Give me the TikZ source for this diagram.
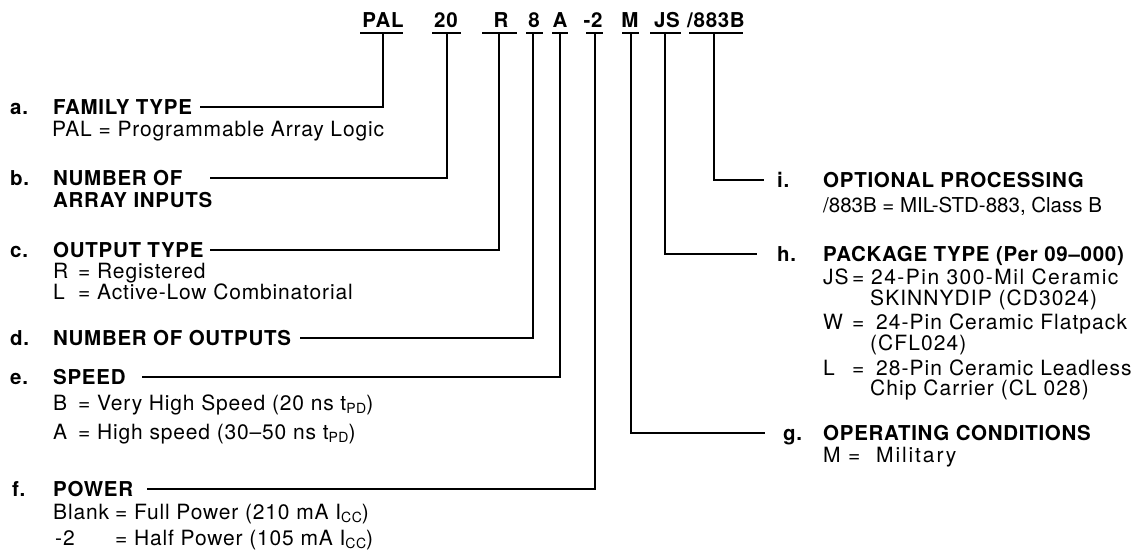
\documentclass[tikz,border=0pt]{standalone}
\usepackage{fontspec}
\setmainfont{texgyreheros}[Extension=.otf,UprightFont=*-regular,BoldFont=*-bold,ItalicFont=*-italic,BoldItalicFont=*-bolditalic,LetterSpace=4]
\newfontfamily\hdfont{texgyreheros}[Extension=.otf,UprightFont=*-bold,BoldFont=*-bold,LetterSpace=3.5]
\newfontfamily\rbody{texgyreheros}[Extension=.otf,UprightFont=*-regular,BoldFont=*-bold,LetterSpace=5]
\newfontfamily\tightbody{texgyreheros}[Extension=.otf,UprightFont=*-regular,BoldFont=*-bold,LetterSpace=0]
\newfontfamily\widebody{texgyreheros}[Extension=.otf,UprightFont=*-regular,BoldFont=*-bold,LetterSpace=7]
\newfontfamily\widerbody{texgyreheros}[Extension=.otf,UprightFont=*-regular,BoldFont=*-bold,LetterSpace=9]
\newcommand\subs[1]{\raisebox{-3pt}{\fontsize{14}{14}\selectfont #1}}
\begin{document}
\begin{tikzpicture}[x=1pt,y=-1pt,
  txt/.style={anchor=base west,inner sep=0pt,font=\fontsize{21}{25}\selectfont},
  rtxt/.style={anchor=base west,inner sep=0pt,font=\rbody\fontsize{21}{25}\selectfont},
  hd/.style={anchor=base west,inner sep=0pt,font=\hdfont\fontsize{20.5}{24}\selectfont},
  code/.style={anchor=base,inner sep=0pt,font=\hdfont\fontsize{20.5}{24}\selectfont},
  ln/.style={line width=1.8pt}]
\useasboundingbox (0,0) rectangle (1143,552);

% codes at top
\node[code] (cPAL) at (383,27) {PAL};
\node[code] (c20) at (446,27) {20};
\node[code] (cR) at (501,27) {R};
\node[code] (c8) at (534,27) {8};
\node[code] (cA) at (560,27) {A};
\node[code] (c2) at (593,27) {-2};
\node[code] (cM) at (630,27) {M};
\node[code] (cJS) at (667,27) {JS};
\node[code] (cB) at (716,27) {/883B};
% underlines
\draw[ln] (360,33) -- (403,33);
\draw[ln] (432,33) -- (461,33);
\draw[ln] (482,33) -- (517,33);
\draw[ln] (526,33) -- (543,33);
\draw[ln] (552,33) -- (568,33);
\draw[ln] (586,33) -- (603,33);
\draw[ln] (622,33) -- (639,33);
\draw[ln] (650,33) -- (681,33);
\draw[ln] (689,33) -- (743,33);
% stem tops
\coordinate (uPAL) at (383,33);
\coordinate (u20) at (447,33);
\coordinate (uR) at (499,33);
\coordinate (u8) at (533,33);
\coordinate (uA) at (560,33);
\coordinate (u2) at (595,33);
\coordinate (uM) at (631,33);
\coordinate (uJS) at (665,33);
\coordinate (uB) at (714,33);

% left column
\node[hd] (la) at (10,114) {a.};
\node[hd] (ha) at (53,114) {FAMILY TYPE};
\node[txt] (ba) at (52,136) {PAL = Programmable Array Logic};

\node[hd] (lb) at (10,185) {b.};
\node[hd] (hb) at (53,185) {NUMBER OF};
\node[hd] (hb2) at (53,207) {ARRAY INPUTS};

\node[hd] (lc) at (10,257) {c.};
\node[hd] (hc) at (53,257) {OUTPUT TYPE};
\node[txt] (bc1) at (53,278) {\makebox[25pt][l]{R}\makebox[19pt][l]{=}Registered};
\node[txt] (bc2) at (53,299) {\makebox[25pt][l]{L}\makebox[19pt][l]{=}Active-Low Combinatorial};

\node[hd] (ld) at (10,345) {d.};
\node[hd] (hd) at (53,345) {NUMBER OF OUTPUTS};

\node[hd] (le) at (10,384) {e.};
\node[hd] (he) at (53,384) {SPEED};
\node[txt] (be1) at (53,410) {\makebox[25pt][l]{B}\makebox[19pt][l]{=}Very High Speed (20 ns t\subs{PD})};
\node[txt] (be2) at (53,439) {\makebox[25pt][l]{A}\makebox[19pt][l]{=}High speed (30--50 ns t\subs{PD})};

\node[hd] (lf) at (12,496) {f.};
\node[hd] (hf) at (53,496) {POWER};
\node[txt] (bf1) at (53,519) {\makebox[62pt][l]{Blank}\makebox[19pt][l]{=}Full Power (210 mA I\subs{CC})};
\node[txt] (bf2) at (55,545) {\makebox[60pt][l]{-2}\makebox[19pt][l]{=}Half Power (105 mA I\subs{CC})};

% right column
\node[hd] (li) at (777,187) {i.};
\node[hd] (hi) at (823,187) {OPTIONAL PROCESSING};
\node[txt,font=\tightbody\fontsize{20.5}{24}\selectfont] (bi) at (823,212) {/883B = MIL-STD-883, Class B};

\node[hd] (lh) at (777,261) {h.};
\node[hd] (hh) at (823,261) {PACKAGE TYPE (Per 09\textendash 000)};
\node[rtxt] (bh1) at (823,284) {\makebox[29pt][l]{JS}\makebox[19pt][l]{=}{\widebody 24-Pin 300-Mil Ceramic}};
\node[rtxt] (bh2) at (870,305) {SKINNYDIP (CD3024)};
\node[rtxt] (bh3) at (823,329) {\makebox[29pt][l]{W}\makebox[24pt][l]{=}24-Pin Ceramic Flatpack};
\node[rtxt] (bh4) at (870,350) {(CFL024)};
\node[rtxt] (bh5) at (823,375) {\makebox[29pt][l]{L}\makebox[24pt][l]{=}28-Pin Ceramic Leadless};
\node[rtxt] (bh6) at (870,395) {Chip Carrier (CL 028)};

\node[hd] (lg) at (783,440) {g.};
\node[hd] (hg) at (823,440) {OPERATING CONDITIONS};
\node[rtxt] (bg) at (823,462) {\makebox[25pt][l]{M}\makebox[28pt][l]{=}{\widerbody Military}};

% connector ends
\coordinate (ea) at (200,107);
\coordinate (eb) at (210,178);
\coordinate (ec) at (210,250);
\coordinate (ed) at (300,338);
\coordinate (ee) at (142,377);
\coordinate (ef) at (147,489);
\coordinate (eg) at (765,433);
\coordinate (eh) at (757,254);
\coordinate (ei) at (764,180);

\draw[ln] (uPAL) |- (ea);
\draw[ln] (u20) |- (eb);
\draw[ln] (uR) |- (ec);
\draw[ln] (u8) |- (ed);
\draw[ln] (uA) |- (ee);
\draw[ln] (u2) |- (ef);
\draw[ln] (uM) |- (eg);
\draw[ln] (uJS) |- (eh);
\draw[ln] (uB) |- (ei);
\end{tikzpicture}
\end{document}
